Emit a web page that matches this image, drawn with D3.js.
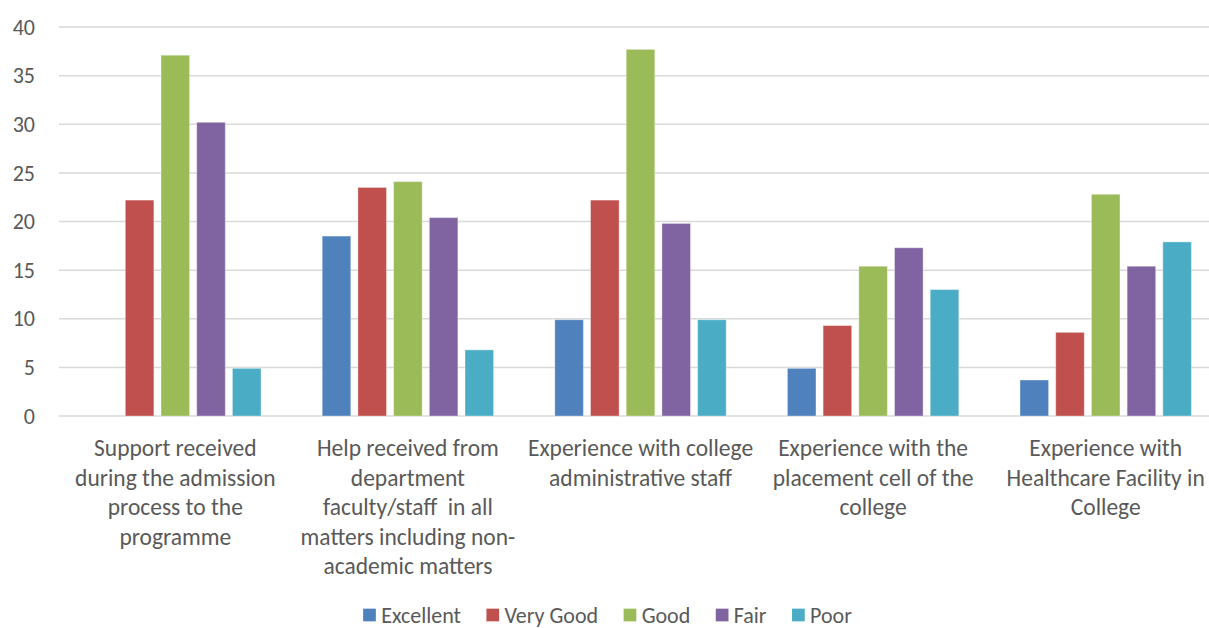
<!DOCTYPE html>
<html>
<head>
<meta charset="utf-8">
<script src="https://cdn.jsdelivr.net/npm/d3@7"></script>
<style>
  html, body { margin: 0; padding: 0; background: #ffffff; }
  svg { display: block; }
  text { font-family: Carlito, Lato, "Open Sans", sans-serif; fill: #595959; white-space: pre; }
</style>
</head>
<body>
<svg id="chart" width="1209" height="628"></svg>
<script>
// Survey categories (each entry is the wrapped label lines)
const categories = [
  ["Support received", "during the admission", "process to the", "programme"],
  ["Help received from", "department", "faculty/staff  in all", "matters including non-", "academic matters"],
  ["Experience with college", "administrative staff"],
  ["Experience with the", "placement cell of the", "college"],
  ["Experience with", "Healthcare Facility in", "College"]
];
const seriesNames = ["Excellent", "Very Good", "Good", "Fair", "Poor"];
const seriesColors = ["#4F81BD", "#C0504D", "#9BBB59", "#8064A2", "#4BACC6"];

// Percentages per category, one array per rating
const excellent = [0, 18.5, 9.9, 4.9, 3.7];
const veryGood  = [22.2, 23.5, 22.2, 9.3, 8.6];
const good      = [37.1, 24.1, 37.7, 15.4, 22.8];
const fair      = [30.2, 20.4, 19.8, 17.3, 15.4];
const poor      = [4.9, 6.8, 9.9, 13.0, 17.9];
const yTicks = [0, 5, 10, 15, 20, 25, 30, 35, 40];

const seriesValues = [excellent, veryGood, good, fair, poor];

const svg = d3.select("#chart");
const W = 1209;
const plot = { left: 59, right: 1222, top: 27, bottom: 416 };

const x0 = d3.scaleBand()
  .domain(d3.range(categories.length))
  .range([plot.left, plot.right])
  .padding(0);

const bw = x0.bandwidth();
const x1 = d3.scaleBand()
  .domain(d3.range(seriesNames.length))
  .range([bw * 0.1316, bw * (1 - 0.1316)])
  .paddingInner(0.2)
  .paddingOuter(0);

const y = d3.scaleLinear().domain([0, 40]).range([plot.bottom, plot.top]);

// Horizontal gridlines
svg.append("g")
  .selectAll("line")
  .data(yTicks)
  .join("line")
  .attr("x1", plot.left)
  .attr("x2", W)
  .attr("y1", d => y(d))
  .attr("y2", d => y(d))
  .attr("stroke", "#d9d9d9")
  .attr("stroke-width", 1.5);

// Y axis tick labels
svg.append("g")
  .selectAll("text")
  .data(yTicks)
  .join("text")
  .attr("x", 35)
  .attr("y", d => y(d))
  .attr("dy", "0.35em")
  .attr("text-anchor", "end")
  .style("font-size", "22px")
  .text(d => d);

// Bars
const groups = svg.append("g")
  .selectAll("g")
  .data(categories.map((c, i) => i))
  .join("g")
  .attr("transform", i => `translate(${x0(i)},0)`);

groups.selectAll("rect")
  .data(i => seriesValues.map((vals, s) => ({ s, v: vals[i] })))
  .join("rect")
  .attr("x", d => x1(d.s))
  .attr("width", x1.bandwidth())
  .attr("y", d => y(d.v))
  .attr("height", d => y(0) - y(d.v))
  .attr("fill", d => seriesColors[d.s])
  .attr("stroke", "rgba(255,255,255,0.35)")
  .attr("stroke-width", 1);

// Category labels
const catLabels = svg.append("g")
  .selectAll("text")
  .data(categories)
  .join("text")
  .attr("text-anchor", "middle")
  .style("font-size", "23.5px")
  .attr("transform", (d, i) => `translate(${x0(i) + bw / 2},0)`);

catLabels.selectAll("tspan")
  .data(d => d)
  .join("tspan")
  .attr("x", 0)
  .attr("y", (d, j) => 456 + j * 29.6)
  .text(d => d);

// Legend
const legend = svg.append("g");
const items = legend.selectAll("g")
  .data(seriesNames)
  .join("g");
items.append("rect")
  .attr("width", 12.7)
  .attr("height", 12.7)
  .attr("y", -6.35)
  .attr("fill", (d, i) => seriesColors[i]);
items.append("text")
  .attr("x", 18)
  .attr("dy", "0.35em")
  .style("font-size", "22px")
  .text(d => d);

const gap = 25.5;
let cx = 0;
const offsets = [];
items.each(function () {
  offsets.push(cx);
  const tw = d3.select(this).select("text").node().getComputedTextLength();
  cx += 18 + tw + gap;
});
const totalW = cx - gap;
items.attr("transform", (d, i) => `translate(${offsets[i]},0)`);
legend.attr("transform", `translate(${607.5 - totalW / 2},615)`);
</script>
</body>
</html>
